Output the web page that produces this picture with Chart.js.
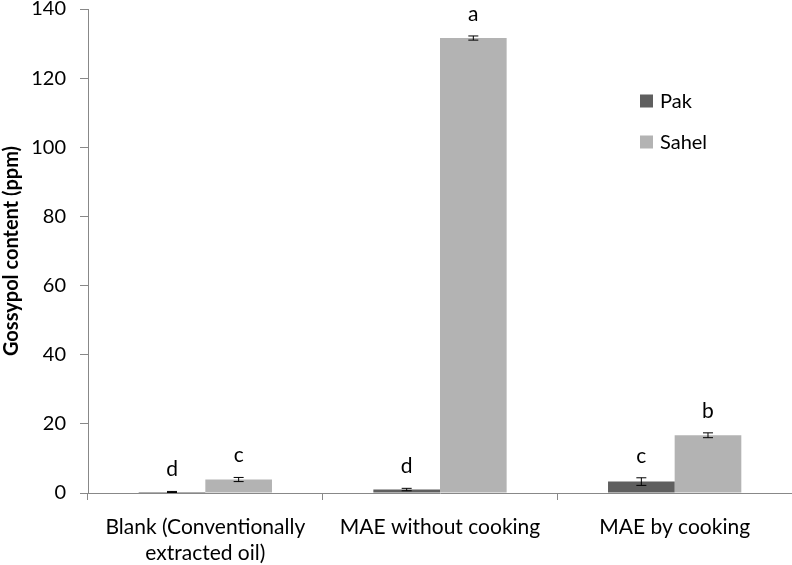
<!DOCTYPE html>
<html>
<head>
<meta charset="utf-8">
<script src="https://cdn.jsdelivr.net/npm/chart.js@4"></script>
<style>
  html, body { margin: 0; padding: 0; background: #fff; }
  #wrap { width: 792px; height: 565px; }
</style>
</head>
<body>
<div id="wrap"><canvas id="chart" width="792" height="565"></canvas></div>
<script>
// data
const categories = [['Blank (Conventionally', 'extracted oil)'], 'MAE without cooking', 'MAE by cooking'];
const seriesNames = ['Pak', 'Sahel'];
const pakValues = [0.3, 1.0, 3.3];
const sahelValues = [3.9, 131.6, 16.7];
const pakErr = [0.15, 0.35, 1.1];
const sahelErr = [0.6, 0.6, 0.7];
const pakLetters = ['d', 'd', 'c'];
const sahelLetters = ['c', 'a', 'b'];
const yTicks = [0, 20, 40, 60, 80, 100, 120, 140];

const FONT = 'Lato, "Open Sans", sans-serif';
const pakColor = '#5f5f5f';
const sahelColor = '#b3b3b3';

// error bars + significance letters
const errorBarPlugin = {
    id: 'errorBars',
    afterDatasetsDraw(chart) {
        const ctx = chart.ctx;
        const y = chart.scales.y;
        chart.data.datasets.forEach((ds, di) => {
            const meta = chart.getDatasetMeta(di);
            meta.data.forEach((bar, i) => {
                const v = ds.data[i];
                const e = ds.errors[i];
                const top = y.getPixelForValue(v + e);
                const bot = y.getPixelForValue(v - e);
                ctx.save();
                ctx.strokeStyle = '#000';
                ctx.lineWidth = 1;
                ctx.beginPath();
                ctx.moveTo(bar.x, top); ctx.lineTo(bar.x, bot);
                ctx.moveTo(bar.x - 5, top); ctx.lineTo(bar.x + 5, top);
                ctx.moveTo(bar.x - 5, bot); ctx.lineTo(bar.x + 5, bot);
                ctx.stroke();
                ctx.fillStyle = '#000';
                ctx.font = '21px ' + FONT;
                ctx.textAlign = 'center';
                ctx.textBaseline = 'middle';
                ctx.fillText(ds.letters[i], bar.x, top - 22);
                ctx.restore();
            });
        });
    }
};

// legend drawn inside the plot area, as in the original
const innerLegend = {
    id: 'innerLegend',
    afterDraw(chart) {
        const ctx = chart.ctx;
        const x0 = chart.chartArea.left + 552;
        let yc = 101;
        chart.data.datasets.forEach(ds => {
            ctx.save();
            ctx.fillStyle = ds.backgroundColor;
            ctx.fillRect(x0, yc - 6.5, 13, 13);
            ctx.fillStyle = '#000';
            ctx.font = '20px ' + FONT;
            ctx.textBaseline = 'middle';
            ctx.fillText(ds.label, x0 + 20, yc + 1);
            ctx.restore();
            yc += 41;
        });
    }
};

new Chart(document.getElementById('chart'), {
    type: 'bar',
    data: {
        labels: categories,
        datasets: [
            { label: seriesNames[0], data: pakValues, errors: pakErr, letters: pakLetters, backgroundColor: pakColor },
            { label: seriesNames[1], data: sahelValues, errors: sahelErr, letters: sahelLetters, backgroundColor: sahelColor }
        ]
    },
    options: {
        responsive: false,
        animation: false,
        layout: { padding: 0 },
        datasets: { bar: { categoryPercentage: 0.568, barPercentage: 1.0 } },
        plugins: {
            legend: { display: false },
            tooltip: { enabled: false }
        },
        scales: {
            x: {
                grid: { display: true, offset: true, drawOnChartArea: false, tickLength: 7, color: '#888' },
                border: { color: '#888', width: 1 },
                ticks: { color: '#000', font: { family: FONT, size: 21, lineHeight: 1.25 }, padding: 14, maxRotation: 0 },
                afterFit(scale) { scale.height = 72; scale.paddingLeft = 0; scale.paddingRight = 0; }
            },
            y: {
                min: 0,
                max: 140,
                afterBuildTicks(scale) { scale.ticks = yTicks.map(v => ({ value: v })); },
                grid: { display: true, drawOnChartArea: false, tickLength: 8, color: '#888' },
                border: { color: '#888', width: 1 },
                ticks: { color: '#000', font: { family: FONT, size: 20 }, padding: 14 },
                title: {
                    display: true,
                    text: 'Gossypol content (ppm)',
                    color: '#000',
                    font: { family: FONT, size: 20, weight: 'bold' },
                    padding: { top: 0, bottom: 0 }
                },
                afterFit(scale) { scale.width = 88; scale.paddingTop = 9; scale.paddingBottom = 0; }
            }
        }
    },
    plugins: [errorBarPlugin, innerLegend]
});
</script>
</body>
</html>
